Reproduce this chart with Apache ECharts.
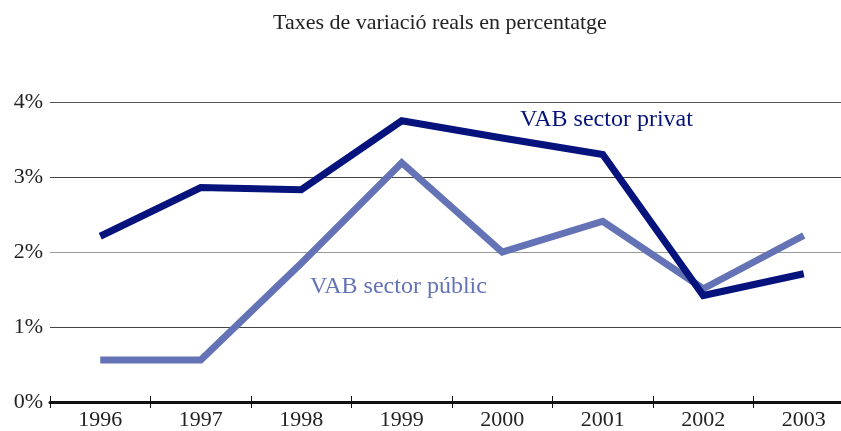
<!DOCTYPE html>
<html><head><meta charset="utf-8">
<script src="https://cdn.jsdelivr.net/npm/echarts@6/dist/echarts.min.js"></script>
<style>html,body{margin:0;padding:0;background:#fff;overflow:hidden;width:841px;height:431px}#c{width:856px;height:431px}</style>
</head><body><div id="c"></div>
<script>
var years = ['1996','1997','1998','1999','2000','2001','2002','2003'];
var privat = [2.21, 2.86, 2.83, 3.75, 3.52, 3.30, 1.42, 1.71];
var public_ = [0.56, 0.56, 1.85, 3.19, 2.00, 2.41, 1.51, 2.22];
var yTicks = [0, 1, 2, 3, 4];
var titleText = 'Taxes de variació reals en percentatge';
var privatName = 'VAB sector privat';
var publicName = 'VAB sector públic';
var FONT = 'Liberation Serif';
var chart = echarts.init(document.getElementById('c'));
chart.setOption({
  animation: false,
  title: {text: titleText, left: 268, top: 7,
    textStyle: {fontFamily: FONT, fontSize: 22, fontWeight: 'normal', color: '#222'}},
  grid: {left: 50, top: 102, right: 2, bottom: 27, containLabel: false},
  xAxis: [{
    type: 'category', data: years, boundaryGap: true,
    axisLine: {lineStyle: {color: '#111', width: 3}},
    axisTick: {show: true, length: 6, lineStyle: {color: '#111', width: 1}},
    axisLabel: {fontFamily: FONT, fontSize: 22, color: '#222', margin: 7}
  }, {
    type: 'category', data: years, boundaryGap: true, position: 'bottom',
    axisLine: {show: false},
    axisTick: {show: true, inside: true, length: 6, lineStyle: {color: '#111', width: 1}},
    axisLabel: {show: false}
  }],
  yAxis: {
    type: 'value', min: yTicks[0], max: yTicks[yTicks.length-1], interval: 1,
    axisLine: {show: false}, axisTick: {show: false},
    axisLabel: {fontFamily: FONT, fontSize: 22, color: '#222', margin: 7,
      formatter: function(v){return v + '%';}},
    splitLine: {lineStyle: {color: ['#111','#444','#999','#444','#555'], width: 1}}
  },
  series: [{
    name: publicName, type: 'line', data: public_, symbol: 'none',
    lineStyle: {color: '#6473b5', width: 7, join: 'miter'}
  }, {
    name: privatName, type: 'line', data: privat, symbol: 'none',
    lineStyle: {color: '#06137c', width: 7, join: 'miter'}
  }],
  graphic: [
    {type: 'text', left: 520, top: 108, style: {text: privatName, fontFamily: FONT, fontSize: 24, fill: '#06137c'}},
    {type: 'text', left: 310, top: 275, style: {text: publicName, fontFamily: FONT, fontSize: 24, fill: '#6473b5'}}
  ]
});
</script></body></html>
